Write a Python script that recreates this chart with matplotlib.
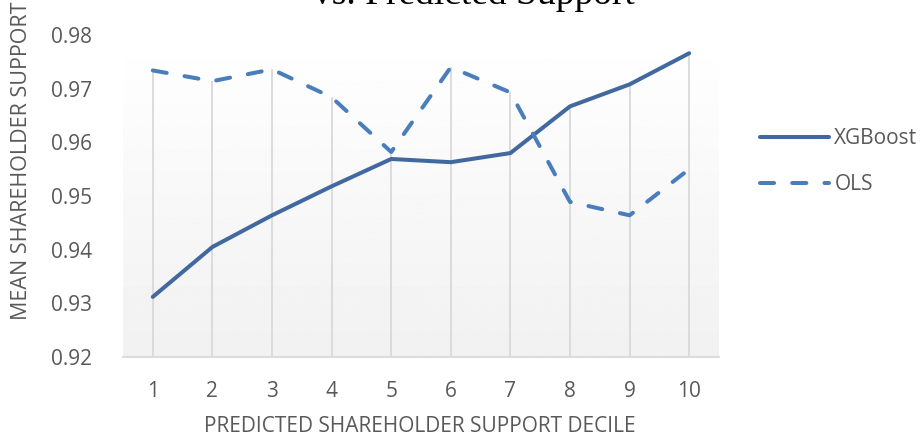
import matplotlib
matplotlib.use("Agg")
import matplotlib.pyplot as plt
import numpy as np

# Data
deciles = [1, 2, 3, 4, 5, 6, 7, 8, 9, 10]
xgboost = [0.9312, 0.9405, 0.9464, 0.9518, 0.9569, 0.9563, 0.9580, 0.9667, 0.9708, 0.9766]
ols = [0.9734, 0.9714, 0.9736, 0.9684, 0.9582, 0.9740, 0.9693, 0.9489, 0.9464, 0.9550]
yticks = [0.92, 0.93, 0.94, 0.95, 0.96, 0.97, 0.98]

text_color = "#595959"
font = "Open Sans"

fig = plt.figure(figsize=(9.22, 4.41), dpi=100)
W, H = 922, 441
left, right, top, bottom = 123, 719, 35, 357
ax = fig.add_axes([left / W, 1 - bottom / H, (right - left) / W, (bottom - top) / H])

# gradient plot-area background (white at top -> light gray at bottom)
grad = np.linspace(1.0, 0.945, 256).reshape(-1, 1)
ax.imshow(grad, cmap="gray", vmin=0, vmax=1, aspect="auto",
          extent=[0.5, 10.5, 0.92, 0.98], origin="upper", zorder=0)

# drop lines from the higher series point down to the axis
tops = [max(a, b) for a, b in zip(xgboost, ols)]
ax.vlines(deciles, 0.92, tops, color="#d9d9d9", lw=1.3, zorder=1)

ax.plot(deciles, xgboost, color="#41699f", lw=2.9, solid_capstyle="round",
        solid_joinstyle="round", label="XGBoost", zorder=3)
ax.plot(deciles, ols, color="#4a7ebb", lw=2.9, linestyle=(0, (3.5, 4.5)),
        dash_capstyle="round", label="OLS", zorder=3)

ax.set_xlim(0.5, 10.5)
ax.set_ylim(0.92, 0.98)
ax.set_yticks(yticks)
ax.set_yticklabels([f"{v:.2f}" for v in yticks])
ax.set_xticks(deciles)
for s in ["left", "right", "top"]:
    ax.spines[s].set_visible(False)
ax.spines["bottom"].set_color("#d9d9d9")
ax.spines["bottom"].set_linewidth(1.3)
ax.tick_params(length=0, labelsize=15, labelcolor=text_color)
ax.tick_params(axis="y", pad=22)
ax.tick_params(axis="x", pad=17)
for lab in ax.get_xticklabels() + ax.get_yticklabels():
    lab.set_family(font)

fig.text(420 / W, 1 - 427 / H, "PREDICTED SHAREHOLDER SUPPORT DECILE", ha="center", va="center",
         fontsize=15, color=text_color, family=font)
fig.text(22 / W, 1 - 161 / H, "MEAN SHAREHOLDER SUPPORT", ha="center", va="center",
         rotation=90, fontsize=15.5, color=text_color, family=font)

# title, mostly cropped off the top in the reference
fig.text(474 / W, 1 - 4 / H, "vs. Predicted Support", ha="center", va="baseline",
         fontsize=27, color="black", family="Liberation Serif")

leg = fig.legend(loc="upper left", bbox_to_anchor=(750 / W, 1 - 118 / H), frameon=False,
                 handlelength=3.3, labelspacing=1.2, handletextpad=0.25, borderpad=0,
                 prop={"family": font, "size": 15})
for t in leg.get_texts():
    t.set_color(text_color)

fig.savefig("out.png", dpi=100)
